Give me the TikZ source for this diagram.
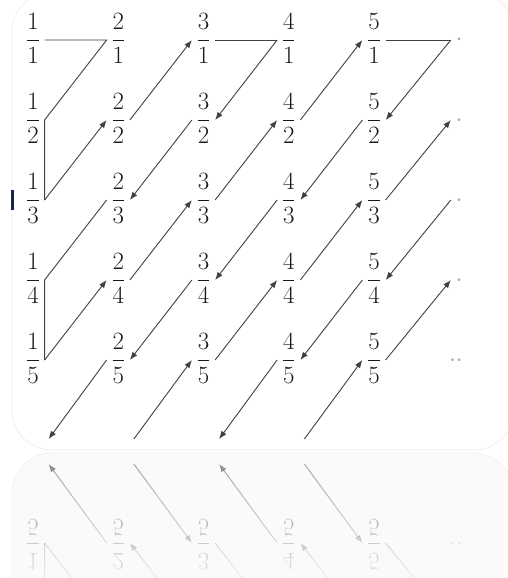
\documentclass[tikz,border=0pt]{standalone}
\usetikzlibrary{arrows.meta}
\tikzset{
  frac/.style={inner sep=4.5pt, text height=31pt, text depth=19pt,
    font=\fontsize{24}{28}\selectfont, text=black!90},
  dotnode/.style={frac, text=black!35},
  link/.style={draw=black!75, line width=0.9pt},
  arr/.style={link, -{Latex[length=8pt,width=6pt]}},
  card/.style={draw=black!8, line width=0.6pt, rounded corners=40pt},
}
\newcommand\cantorgrid{%
  \foreach \i in {1,...,5}{\foreach \j in {1,...,5}{
    \node[frac] (n\i\j) at ({33+85.25*(\i-1)},{40+80*(\j-1)}) {$\displaystyle\frac{\i}{\j}$};}}
  \foreach \j in {1,...,4}{\node[dotnode] (n6\j) at (459,{40+80*(\j-1)}) {$\cdot$};}
  \node[dotnode] (n65) at (456,360) {$\cdot\cdot$};
  \foreach \i in {1,...,4}{\node[frac] (n\i6) at ({37+85.25*(\i-1)},439) {\phantom{$\displaystyle\frac{1}{1}$}};}
  % plain segments
  \draw[link] (n11.east) -- (n21.west) -- (n12.east) -- (n13.east);
  \draw[link] (n31.east) -- (n41.west);
  \draw[link] (n23.west) -- (n14.east) -- (n15.east);
  \draw[link] (n51.east) -- (n61.west);
  % arrows
  \draw[arr] (n13.east) -- (n22.west);
  \draw[arr] (n22.east) -- (n31.west);
  \draw[arr] (n41.west) -- (n32.east);
  \draw[arr] (n32.west) -- (n23.east);
  \draw[arr] (n15.east) -- (n24.west);
  \draw[arr] (n24.east) -- (n33.west);
  \draw[arr] (n33.east) -- (n42.west);
  \draw[arr] (n42.east) -- (n51.west);
  \draw[arr] (n61.west) -- (n52.east);
  \draw[arr] (n52.west) -- (n43.east);
  \draw[arr] (n43.west) -- (n34.east);
  \draw[arr] (n34.west) -- (n25.east);
  \draw[arr] (n25.west) -- (n16.east);
  \draw[arr] (n26.east) -- (n35.west);
  \draw[arr] (n35.east) -- (n44.west);
  \draw[arr] (n44.east) -- (n53.west);
  \draw[arr] (n53.east) -- (n62.west);
  \draw[arr] (n63.west) -- (n54.east);
  \draw[arr] (n54.west) -- (n45.east);
  \draw[arr] (n45.west) -- (n36.east);
  \draw[arr] (n46.east) -- (n55.west);
  \draw[arr] (n55.east) -- (n64.west);
}
\begin{document}
\begin{tikzpicture}[x=1pt,y=-1pt]
  \useasboundingbox (0,0) rectangle (508,578);
  \fill[white] (0,0) rectangle (508,578);
  % main card
  \draw[card] (12,-8) rectangle (514,450);
  % reflection card
  \begin{scope}
    \clip[rounded corners=40pt] (12,453) rectangle (514,660);
    \fill[black!2] (12,453) rectangle (514,660);
    \begin{scope}[yshift=-903pt, yscale=-1, transform shape, opacity=0.5]
      \cantorgrid
    \end{scope}
    \foreach \k [evaluate=\k as \op using 0.075*\k] in {0,...,11}{
      \fill[black!2, fill opacity=\op] (12,{453+\k*10.5}) rectangle (514,{453+(\k+1)*10.5+0.3});}
  \end{scope}
  \draw[draw=black!6, line width=0.6pt, rounded corners=40pt] (12,640) rectangle (514,453);
  % main diagram
  \cantorgrid
  % cursor mark
  \fill[fill={rgb,255:red,25;green,35;blue,80}] (11,190) rectangle (14,210);
\end{tikzpicture}
\end{document}
